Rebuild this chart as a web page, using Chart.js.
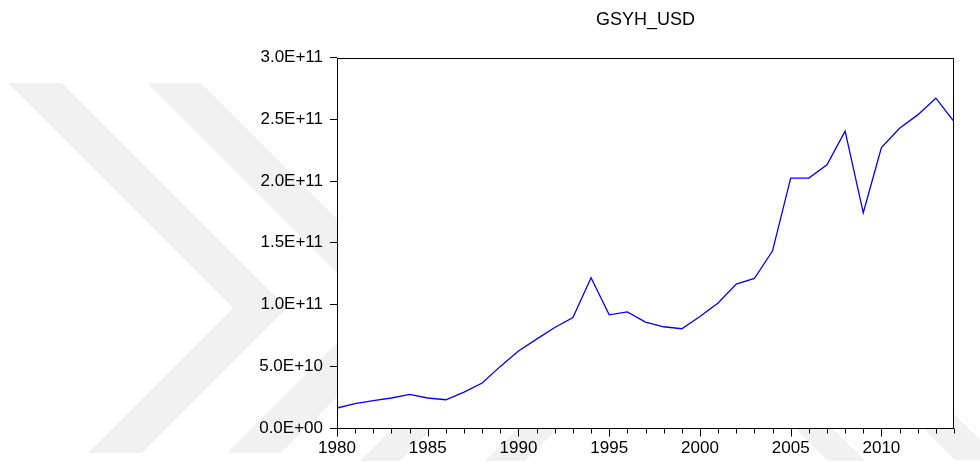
<!DOCTYPE html>
<html>
<head>
<meta charset="utf-8">
<title>GSYH_USD</title>
<script src="https://cdn.jsdelivr.net/npm/chart.js@4.4.1/dist/chart.umd.min.js"></script>
<style>
  html, body { margin: 0; padding: 0; background: #fff; }
  #chart { display: block; }
</style>
</head>
<body>
<canvas id="chart" width="980" height="463"></canvas>
<script>
// years and GDP in USD (billions * 1e9)
const years = [1980, 1981, 1982, 1983, 1984, 1985, 1986, 1987, 1988, 1989,
               1990, 1991, 1992, 1993, 1994, 1995, 1996, 1997, 1998, 1999,
               2000, 2001, 2002, 2003, 2004, 2005, 2006, 2007, 2008, 2009,
               2010, 2011, 2012, 2013, 2014];
const gsyhBillions = [16.2, 19.7, 22.1, 24.3, 27.2, 24.3, 22.9, 29.1, 36.4, 49.9,
                      62.3, 72.0, 81.4, 89.5, 121.7, 91.7, 94.1, 85.8, 82.0, 80.4,
                      90.3, 101.2, 116.6, 121.1, 143.5, 202.4, 202.4, 213.1, 240.4, 174.3,
                      227.2, 242.8, 253.6, 267.1, 248.2];
const yTicks = [0, 5e10, 1e11, 1.5e11, 2e11, 2.5e11, 3e11];
const xLabelYears = [1980, 1985, 1990, 1995, 2000, 2005, 2010];

const points = years.map((yr, i) => ({ x: yr, y: gsyhBillions[i] * 1e9 }));

// EViews style number format: 5.0E+10
function sci(v) {
    if (v === 0) return "0.0E+00";
    const exp = Math.floor(Math.log10(Math.abs(v)));
    const mant = v / Math.pow(10, exp);
    const e = String(Math.abs(exp)).padStart(2, "0");
    return mant.toFixed(1) + "E" + (exp < 0 ? "-" : "+") + e;
}

// faint chevron watermark in the page background
const watermark = [
    [[8, 83], [62, 83], [287, 308], [142, 453], [88, 453], [233, 308]],
    [[147, 83], [201, 83], [426, 308], [281, 453], [227, 453], [372, 308]],
    [[360, 461], [400, 461], [438, 423], [398, 423]],
    [[485, 461], [525, 461], [563, 423], [523, 423]],
    [[790, 423], [827, 423], [865, 461], [828, 461]],
    [[890, 395], [935, 395], [1000, 460], [955, 460]]
];

const backgroundPlugin = {
    id: "background",
    beforeDraw(chart) {
        const ctx = chart.ctx;
        const a = chart.chartArea;
        ctx.save();
        ctx.fillStyle = "#ffffff";
        ctx.fillRect(0, 0, chart.width, chart.height);
        ctx.fillStyle = "#f1f1f1";
        watermark.forEach(poly => {
            ctx.beginPath();
            poly.forEach((p, i) => i ? ctx.lineTo(p[0], p[1]) : ctx.moveTo(p[0], p[1]));
            ctx.closePath();
            ctx.fill();
        });
        ctx.fillStyle = "#ffffff";
        ctx.fillRect(a.left, a.top, a.right - a.left, a.bottom - a.top);
        ctx.restore();
    }
};

// box around the plot + minor/major ticks on the year axis
const framePlugin = {
    id: "frame",
    afterDraw(chart) {
        const ctx = chart.ctx;
        const a = chart.chartArea;
        const xs = chart.scales.x;
        ctx.save();
        ctx.strokeStyle = "#000";
        ctx.lineWidth = 1;
        ctx.strokeRect(Math.round(a.left) + 0.5, Math.round(a.top) + 0.5,
                       Math.round(a.right - a.left) - 1, Math.round(a.bottom - a.top));
        const base = Math.round(a.bottom) + 0.5;
        xs.ticks.forEach(t => {
            const px = Math.round(xs.getPixelForValue(t.value)) + 0.5;
            const len = t.value % 5 === 0 ? 8 : 5;
            ctx.beginPath();
            ctx.moveTo(px, base);
            ctx.lineTo(px, base + len);
            ctx.stroke();
        });
        ctx.restore();
    }
};

const ctx = document.getElementById("chart").getContext("2d");
new Chart(ctx, {
    type: "line",
    data: {
        datasets: [{
            label: "GSYH_USD",
            data: points,
            borderColor: "#0000ff",
            borderWidth: 1.3,
            pointRadius: 0,
            tension: 0,
            fill: false
        }]
    },
    options: {
        responsive: false,
        animation: false,
        events: [],
        layout: { padding: { left: 0, right: 26, top: 0, bottom: 0 } },
        plugins: {
            legend: { display: false },
            tooltip: { enabled: false },
            title: {
                display: true,
                text: "GSYH_USD",
                fullSize: false,
                color: "#000",
                font: { family: "'Liberation Sans', Arial, sans-serif", size: 18, weight: "normal" },
                padding: { top: 9, bottom: 27 }
            }
        },
        scales: {
            x: {
                type: "linear",
                min: years[0],
                max: years[years.length - 1],
                afterFit(scale) { scale.height = 35; },
                grid: { drawOnChartArea: false, tickLength: 8, tickColor: "rgba(0,0,0,0)" },
                border: { display: false },
                ticks: {
                    stepSize: 1,
                    autoSkip: false,
                    maxRotation: 0,
                    padding: 2,
                    color: "#000",
                    font: { family: "'Liberation Sans', Arial, sans-serif", size: 17 },
                    callback: v => xLabelYears.includes(v) ? String(v) : ""
                }
            },
            y: {
                min: yTicks[0],
                max: yTicks[yTicks.length - 1],
                afterFit(scale) { scale.width = 337; },
                afterBuildTicks(scale) { scale.ticks = yTicks.map(v => ({ value: v })); },
                grid: { drawOnChartArea: false, tickLength: 7, color: "#000" },
                border: { display: false },
                ticks: {
                    padding: 7,
                    color: "#000",
                    font: { family: "'Liberation Sans', Arial, sans-serif", size: 17 },
                    callback: v => sci(v)
                }
            }
        }
    },
    plugins: [backgroundPlugin, framePlugin]
});
</script>
</body>
</html>
